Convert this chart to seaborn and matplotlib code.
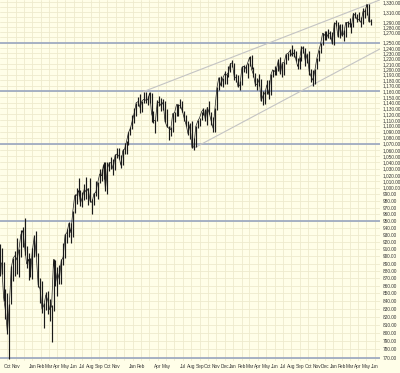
import numpy as np
import pandas as pd
import matplotlib
matplotlib.use("Agg")
import matplotlib.pyplot as plt
import matplotlib.dates as mdates
from matplotlib.ticker import FixedLocator, FuncFormatter, NullLocator
import seaborn as sns

# ---------------- data (weekly bars) ----------------
week_start = "2002-09-04"

high_2002 = [917, 912, 892, 856, 851, 836, 887, 898, 907, 925, 910, 937, 941, 954, 915, 905, 897]
low_2002 = [873, 876, 840, 817, 798, 769, 836, 866, 873, 876, 872, 899, 913, 902, 884, 868, 872]
close_2002 = [893.9, 889.8, 845.4, 827.4, 800.6, 835.3, 884.4, 897.7, 901.0, 894.7, 909.8, 930.6,
              936.3, 912.2, 889.5, 895.8, 875.4]

high_2003 = [911, 930, 935, 904, 870, 866, 838, 852, 853, 843, 835, 896, 895,
             885, 888, 896, 919, 931, 939, 948, 947, 965, 991, 1000, 1015, 996,
             994, 1005, 1016, 999, 1015, 983, 992, 1011, 1009, 1029, 1030, 1040, 1040,
             1040, 1041, 1049, 1045, 1054, 1063, 1063, 1051, 1061, 1071, 1075, 1089, 1098]
low_2003 = [869, 899, 900, 859, 837, 825, 806, 828, 824, 815, 789, 827, 860,
            847, 862, 863, 888, 897, 919, 927, 919, 927, 962, 976, 987, 973,
            971, 981, 983, 974, 979, 960, 974, 988, 983, 1008, 1010, 1013, 995,
            990, 1026, 1030, 1019, 1028, 1047, 1045, 1031, 1035, 1054, 1053, 1068, 1084]
close_2003 = [908.6, 927.6, 901.8, 861.4, 855.7, 829.7, 834.9, 848.2, 841.2, 828.9, 833.3, 895.8, 863.5,
              878.9, 868.3, 893.6, 898.8, 930.1, 933.4, 946.7, 933.2, 963.6, 987.8, 988.6, 995.7, 976.2,
              985.7, 998.1, 993.3, 998.7, 980.2, 977.6, 990.7, 993.1, 1008.0, 1021.4, 1018.6, 1036.3, 996.9,
              1029.9, 1038.7, 1039.3, 1028.9, 1050.7, 1053.2, 1050.4, 1035.3, 1058.2, 1061.5, 1074.1, 1088.7, 1095.9]

high_2004 = [1118, 1131, 1140, 1150, 1155, 1143, 1159, 1158, 1152, 1159, 1157, 1126, 1110,
             1145, 1151, 1148, 1147, 1142, 1128, 1099, 1098, 1122, 1124, 1137, 1138, 1146,
             1143, 1126, 1119, 1108, 1104, 1108, 1080, 1099, 1109, 1114, 1124, 1131, 1129,
             1132, 1142, 1123, 1115, 1131, 1168, 1185, 1188, 1183, 1197, 1192, 1206, 1211, 1217]
low_2004 = [1094, 1104, 1117, 1134, 1122, 1124, 1140, 1139, 1135, 1140, 1106, 1104, 1088,
            1108, 1134, 1125, 1127, 1107, 1098, 1077, 1082, 1090, 1107, 1116, 1117, 1131,
            1123, 1108, 1100, 1084, 1078, 1063, 1060, 1064, 1096, 1100, 1109, 1119, 1108,
            1101, 1120, 1101, 1090, 1090, 1127, 1163, 1170, 1167, 1173, 1173, 1185, 1194, 1204]
close_2004 = [1108.5, 1121.9, 1139.8, 1141.6, 1131.1, 1142.8, 1145.8, 1144.1, 1144.9, 1156.9, 1120.6, 1109.8, 1108.1,
              1141.8, 1139.3, 1134.6, 1140.6, 1107.3, 1098.7, 1095.7, 1093.6, 1120.7, 1122.5, 1136.5, 1135.0, 1134.4,
              1125.4, 1112.8, 1101.4, 1086.2, 1101.7, 1064.0, 1064.8, 1098.6, 1107.8, 1113.6, 1123.9, 1128.6, 1110.1,
              1131.5, 1122.1, 1108.2, 1095.7, 1130.2, 1166.2, 1184.2, 1170.3, 1182.7, 1191.2, 1189.2, 1194.2, 1210.1, 1211.9]

high_2005 = [1212, 1191, 1189, 1179, 1205, 1208, 1208, 1212, 1225, 1226, 1204, 1193,
             1183, 1192, 1182, 1160, 1160, 1180, 1180, 1192, 1199, 1205, 1203, 1219, 1222,
             1212, 1213, 1228, 1230, 1237, 1245, 1237, 1234, 1221, 1222, 1243, 1243, 1239, 1229,
             1234, 1200, 1199, 1200, 1221, 1235, 1249, 1269, 1273, 1273, 1276, 1273, 1271]
low_2005 = [1181, 1176, 1167, 1163, 1171, 1195, 1193, 1184, 1205, 1200, 1185, 1170,
            1163, 1169, 1142, 1136, 1137, 1155, 1147, 1154, 1186, 1189, 1190, 1197, 1191,
            1185, 1189, 1210, 1217, 1225, 1225, 1222, 1216, 1201, 1201, 1216, 1230, 1206, 1211,
            1190, 1176, 1169, 1173, 1201, 1215, 1231, 1246, 1256, 1256, 1259, 1257, 1248]
close_2005 = [1186.2, 1184.5, 1167.9, 1171.4, 1203.0, 1205.3, 1201.6, 1211.4, 1222.1, 1200.1, 1190.2, 1171.4,
              1172.9, 1181.2, 1142.6, 1152.1, 1156.9, 1171.4, 1154.1, 1189.3, 1198.8, 1196.0, 1200.9, 1217.0, 1191.6,
              1211.9, 1211.9, 1227.9, 1229.4, 1234.2, 1226.4, 1230.4, 1219.7, 1205.1, 1218.0, 1241.5, 1237.9, 1215.3, 1228.8,
              1195.9, 1186.6, 1179.6, 1198.4, 1220.1, 1234.7, 1248.3, 1268.3, 1265.1, 1259.4, 1267.3, 1268.7, 1248.3]

high_2006 = [1290, 1295, 1291, 1286, 1287, 1275, 1290, 1293, 1298, 1289, 1309, 1310, 1307,
             1310, 1300, 1318, 1316, 1327, 1326, 1296]
low_2006 = [1245, 1282, 1260, 1258, 1262, 1253, 1261, 1280, 1280, 1268, 1280, 1298, 1291,
            1293, 1280, 1286, 1298, 1304, 1291, 1284]
close_2006 = [1285.5, 1287.6, 1261.5, 1283.7, 1264.0, 1267.0, 1289.4, 1289.4, 1287.2, 1281.4, 1307.3, 1303.0, 1294.8,
              1295.5, 1289.1, 1311.3, 1310.6, 1325.8, 1291.2, 1292.1]

# horizontal support / resistance levels
levels = [1250, 1160, 1070, 950, 770]

# channel lines (start, end) as (date, price)
upper_channel_dates = ["2004-02-08", "2006-06-20"]
upper_channel_prices = [1159, 1335]
lower_channel_dates = ["2004-08-12", "2006-06-20"]
lower_channel_prices = [1063, 1238]

# price axis labels
ytick_values = list(range(770, 1251, 10)) + [1270, 1280, 1290, 1310, 1330]

# month labels shown on the time axis
month_ticks = (["2002-09", "2002-10", "2002-11"]
               + ["2003-%02d" % m for m in range(1, 12)]
               + ["2004-01", "2004-02", "2004-04", "2004-05"]
               + ["2004-%02d" % m for m in range(7, 13)]
               + ["2005-%02d" % m for m in range(1, 13)]
               + ["2006-%02d" % m for m in range(1, 7)])

# ---------------- build frame ----------------
high = high_2002 + high_2003 + high_2004 + high_2005 + high_2006
low = low_2002 + low_2003 + low_2004 + low_2005 + low_2006
close = close_2002 + close_2003 + close_2004 + close_2005 + close_2006
dates = pd.date_range(week_start, periods=len(close), freq="7D")
df = pd.DataFrame({"date": dates, "high": high, "low": low, "close": close})

# ---------------- style ----------------
bg = "#FFFEE8"
grid_c = "#EEEACD"
sns.set_theme(style="white", rc={"axes.facecolor": bg, "figure.facecolor": bg})
plt.rcParams["font.family"] = ["Liberation Sans", "DejaVu Sans"]

fig = plt.figure(figsize=(4.0, 3.73), dpi=100)
ax = fig.add_axes([0.0, 12 / 373, 380 / 400, 361 / 373])
ax.set_facecolor(bg)
ax.set_yscale("log")

x0 = pd.Timestamp("2002-09-05")
x1 = pd.Timestamp("2006-06-20")
ax.set_xlim(x0, x1)
ax.set_ylim(766.1, 1334.7)

# grid
month_starts = pd.date_range("2002-09-01", "2006-07-01", freq="MS")
for d in month_starts:
    ax.axvline(d, color=grid_c, lw=0.6, zorder=0)
for v in range(770, 1340, 10):
    ax.axhline(v, color=grid_c, lw=0.6, zorder=0)

# levels
for lv in levels:
    ax.axhline(lv, color="#98A5C0", lw=1.2, zorder=1)

# channel lines
sns.lineplot(x=pd.to_datetime(upper_channel_dates), y=upper_channel_prices, ax=ax,
             color="#C4C4C4", lw=0.8, zorder=2)
sns.lineplot(x=pd.to_datetime(lower_channel_dates), y=lower_channel_prices, ax=ax,
             color="#C4C4C4", lw=0.8, zorder=2)

# price bars
ax.vlines(df["date"], df["low"], df["high"], color="#1a1a1a", lw=0.85, zorder=3)
sns.lineplot(data=df, x="date", y="close", ax=ax, color="#1a1a1a", lw=0.5, zorder=3)

# axes cosmetics
for s in ax.spines.values():
    s.set_visible(False)
ax.yaxis.tick_right()
ax.yaxis.set_major_locator(FixedLocator(ytick_values))
ax.yaxis.set_minor_locator(NullLocator())
ax.yaxis.set_major_formatter(FuncFormatter(lambda v, p: f"{v:,.2f}"))
ax.tick_params(axis="y", length=0, pad=2, labelsize=3.4, labelcolor="#333333")

ax.xaxis.set_major_locator(FixedLocator([mdates.date2num(pd.Timestamp(m + "-01")) for m in month_ticks]))
ax.xaxis.set_major_formatter(mdates.DateFormatter("%b"))
ax.xaxis.set_minor_locator(NullLocator())
ax.tick_params(axis="x", length=0, pad=2.5, labelsize=3.4, labelcolor="#333333")
ax.set_xlabel("")
ax.set_ylabel("")
ax.grid(False)

fig.savefig("out.png", dpi=100, facecolor=bg)
